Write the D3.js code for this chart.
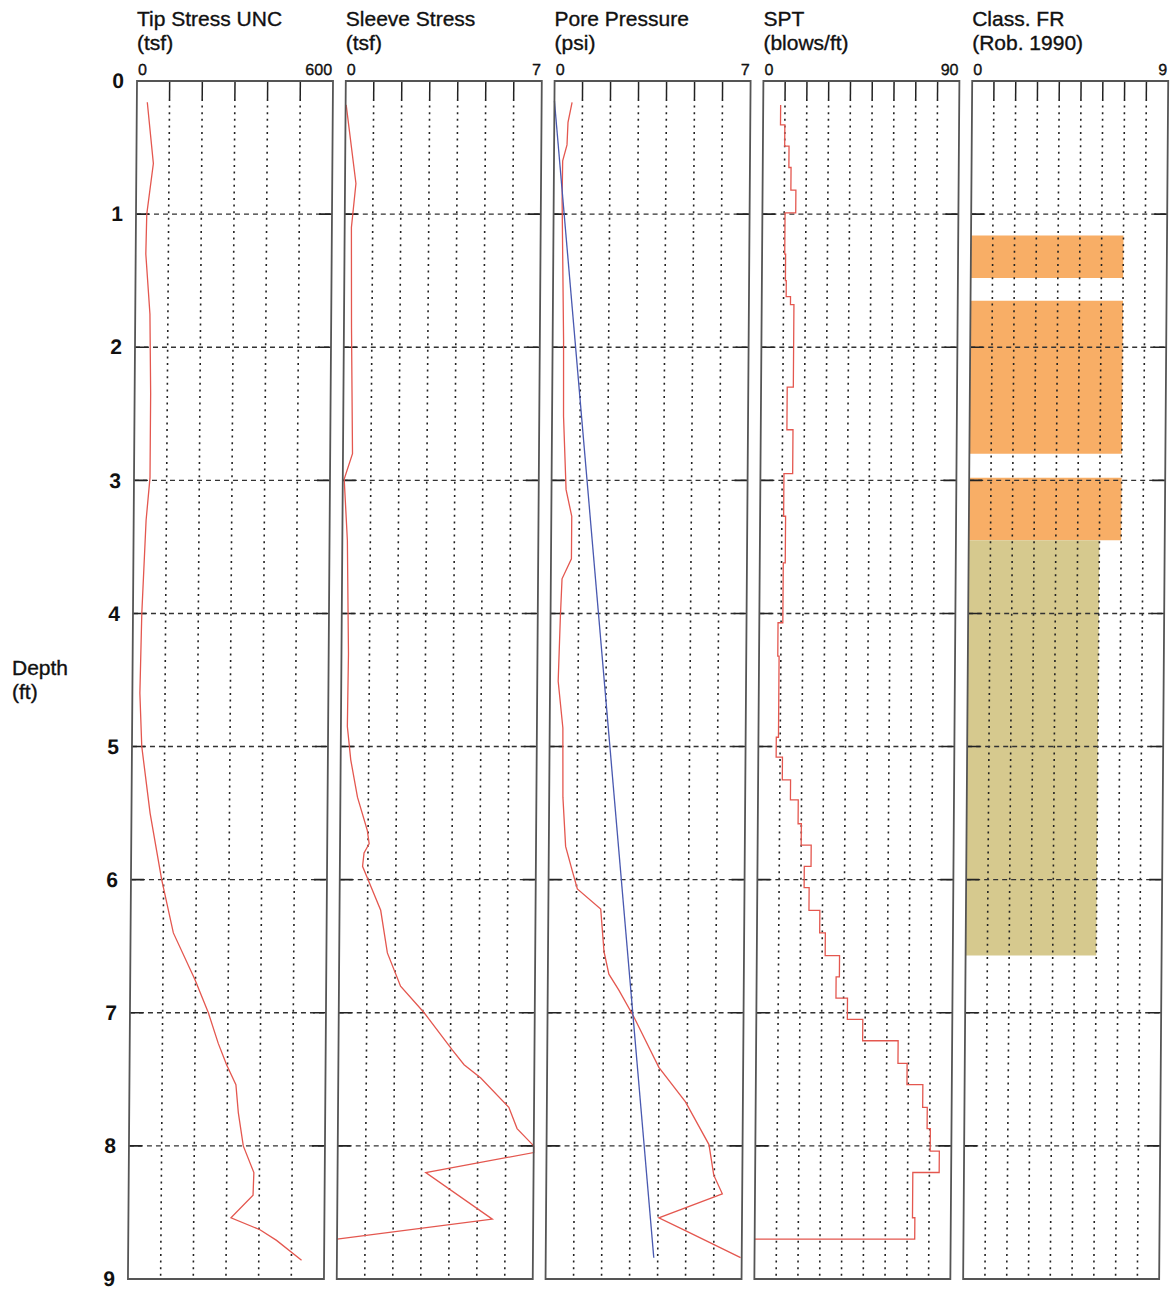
<!DOCTYPE html>
<html>
<head>
<meta charset="utf-8">
<script src="https://cdn.jsdelivr.net/npm/d3@7"></script>
<style>
  body { margin: 0; background: #fff; }
  svg text { font-family: "Liberation Sans", Arial, sans-serif; fill: #111; }
  .heavy { stroke: #111; stroke-width: 0.35px; }
</style>
</head>
<body>
<div id="chart"></div>
<script>
// panel setup
var panelTitles = ["Tip Stress UNC", "Sleeve Stress", "Pore Pressure", "SPT", "Class. FR"];
var panelUnits = ["(tsf)", "(tsf)", "(psi)", "(blows/ft)", "(Rob. 1990)"];
var panelMax = [600, 7, 7, 90, 9];
var panelDivisions = [6, 7, 7, 9, 9];
var depthTicks = [0, 1, 2, 3, 4, 5, 6, 7, 8, 9];

// tip stress (tsf) vs depth (ft)
var tipDepth = [0.16, 0.62, 1.0, 1.3, 1.75, 2.35, 2.98, 3.3, 4.0, 4.6, 5.0, 5.5, 6.0, 6.4, 6.75, 7.0, 7.23, 7.39, 7.54, 7.75, 8.0, 8.2, 8.37, 8.54, 8.63, 8.71, 8.86];
var tipValue = [32, 52, 33, 31, 45, 49, 49, 38, 27, 23, 30, 57, 94, 131, 198, 240, 271, 297, 326, 334, 350, 383, 381, 314, 403, 454, 531];

// sleeve stress (tsf)
var sleeveDepth = [0.18, 0.77, 1.1, 1.85, 2.8, 2.99, 3.45, 4.3, 4.85, 5.1, 5.38, 5.63, 5.73, 5.8, 5.9, 5.99, 6.23, 6.55, 6.8, 7.0, 7.28, 7.39, 7.49, 7.71, 7.87, 8.0, 8.05, 8.2, 8.55, 8.7];
var sleeveValue = [0.02, 0.39, 0.24, 0.27, 0.34, 0.05, 0.18, 0.25, 0.23, 0.36, 0.61, 0.97, 1.04, 0.86, 0.81, 0.99, 1.47, 1.72, 2.2, 3.05, 4.07, 4.49, 5.09, 6.1, 6.4, 7.0, 7.0, 3.15, 5.54, 0.0];

// pore pressure u2 (psi)
var poreDepth = [0.16, 0.31, 0.48, 0.6, 0.89, 1.35, 1.94, 2.52, 3.07, 3.27, 3.59, 3.74, 4.03, 4.51, 4.86, 5.38, 5.75, 5.93, 6.07, 6.22, 6.54, 6.71, 6.83, 7.03, 7.41, 7.67, 7.99, 8.22, 8.36, 8.54, 8.65, 8.84];
var poreValue = [0.63, 0.49, 0.46, 0.31, 0.30, 0.34, 0.39, 0.41, 0.52, 0.73, 0.73, 0.40, 0.35, 0.29, 0.47, 0.49, 0.60, 0.84, 1.03, 1.87, 2.0, 2.18, 2.54, 3.08, 3.99, 4.95, 5.80, 5.98, 6.29, 4.03, 5.11, 6.96];

// hydrostatic line (psi)
var hydroDepth = [0.15, 8.84];
var hydroValue = [0.0, 3.86];

// SPT (blows/ft), each value holds down to the next depth
var sptDepth = [0.18, 0.33, 0.49, 0.65, 0.82, 0.99, 1.3, 1.5, 1.62, 1.68, 2.3, 2.62, 2.95, 3.27, 3.62, 4.07, 4.32, 4.93, 5.08, 5.25, 5.4, 5.58, 5.74, 5.9, 6.06, 6.23, 6.4, 6.57, 6.73, 6.89, 7.05, 7.21, 7.38, 7.54, 7.71, 7.87, 8.04, 8.2, 8.54, 8.7];
var sptBlows = [8, 10, 12, 13, 15.3, 10.4, 10.8, 11.2, 13.2, 14.8, 12, 14.8, 10.8, 11.7, 10.8, 8.6, 9.2, 8.2, 11.1, 14.9, 18.5, 20, 24.6, 21.5, 23.8, 28.8, 31.4, 38, 36.5, 41.8, 48.9, 65.2, 69.4, 76.7, 78.8, 80.3, 84.5, 72.4, 73.5, 0];

// soil behaviour class (Robertson 1990)
var classTop = [1.16, 1.65, 2.98, 3.45];
var classBottom = [1.48, 2.8, 3.45, 6.57];
var classZone = [7, 7, 7, 6];
var zoneColours = { 6: "#d6c98e", 7: "#f8ae66" };

var width = 1175, height = 1289;
var panelLeft0 = 137, panelStep = 208.8, panelWidth = 196;

var svg = d3.select("#chart").append("svg")
    .attr("width", width)
    .attr("height", height);

var y = d3.scaleLinear().domain([0, 9]).range([81, 1279]);

// the scan leans slightly, so the whole frame is skewed a bit
var g = svg.append("g")
    .attr("transform", "translate(0,81) skewX(-0.433) translate(0,-81)");

function xScaleFor(i) {
    var left = panelLeft0 + i * panelStep;
    return d3.scaleLinear().domain([0, panelMax[i]]).range([left, left + panelWidth]);
}

var redLine = "#e4574f";

panelTitles.forEach(function (title, i) {
    var x = xScaleFor(i);
    var left = x.range()[0], right = x.range()[1];
    var p = g.append("g");

    svg.append("text").attr("class", "heavy").attr("x", left).attr("y", 26).attr("font-size", 21).text(title);
    svg.append("text").attr("class", "heavy").attr("x", left).attr("y", 50).attr("font-size", 21).text(panelUnits[i]);
    p.append("text").attr("class", "heavy").attr("x", left + 1).attr("y", 75).attr("font-size", 16).text("0");
    p.append("text").attr("class", "heavy").attr("x", right - 1).attr("y", 75).attr("font-size", 16)
        .attr("text-anchor", "end").text(panelMax[i]);

    if (i == 4) {
        p.selectAll("rect.zone")
            .data(classTop)
            .enter().append("rect")
            .attr("class", "zone")
            .attr("x", left)
            .attr("y", function (d) { return y(d) })
            .attr("width", function (d, j) { return x(classZone[j]) - left })
            .attr("height", function (d, j) { return y(classBottom[j]) - y(d) })
            .attr("fill", function (d, j) { return zoneColours[classZone[j]] });
    }

    // vertical grid
    var step = panelMax[i] / panelDivisions[i];
    var vTicks = d3.range(1, panelDivisions[i]).map(function (k) { return k * step });
    p.selectAll("line.vtick").data(vTicks).enter().append("line")
        .attr("x1", function (d) { return x(d) }).attr("x2", function (d) { return x(d) })
        .attr("y1", y(0)).attr("y2", y(0) + 18)
        .attr("stroke", "#222").attr("stroke-width", 1.5);
    p.selectAll("line.vgrid").data(vTicks).enter().append("line")
        .attr("x1", function (d) { return x(d) }).attr("x2", function (d) { return x(d) })
        .attr("y1", y(0) + 18).attr("y2", y(9))
        .attr("stroke", "#222").attr("stroke-width", 1.6)
        .attr("stroke-dasharray", "2,4.6");

    // horizontal grid
    var hTicks = d3.range(1, 9);
    p.selectAll("line.hgrid").data(hTicks).enter().append("line")
        .attr("x1", left).attr("x2", right)
        .attr("y1", function (d) { return y(d) }).attr("y2", function (d) { return y(d) })
        .attr("stroke", "#333").attr("stroke-width", 1.4)
        .attr("stroke-dasharray", "5,4");
    p.selectAll("line.hl").data(hTicks).enter().append("line")
        .attr("x1", left).attr("x2", left + 13)
        .attr("y1", function (d) { return y(d) }).attr("y2", function (d) { return y(d) })
        .attr("stroke", "#222").attr("stroke-width", 1.6);
    p.selectAll("line.hr").data(hTicks).enter().append("line")
        .attr("x1", right - 13).attr("x2", right)
        .attr("y1", function (d) { return y(d) }).attr("y2", function (d) { return y(d) })
        .attr("stroke", "#222").attr("stroke-width", 1.6);

    var line = d3.line()
        .x(function (d) { return x(d[1]) })
        .y(function (d) { return y(d[0]) });

    if (i == 0) {
        p.append("path").datum(d3.zip(tipDepth, tipValue))
            .attr("d", line).attr("fill", "none").attr("stroke", redLine).attr("stroke-width", 1.3);
    }
    if (i == 1) {
        p.append("path").datum(d3.zip(sleeveDepth, sleeveValue))
            .attr("d", line).attr("fill", "none").attr("stroke", redLine).attr("stroke-width", 1.3);
    }
    if (i == 2) {
        p.append("path").datum(d3.zip(poreDepth, poreValue))
            .attr("d", line).attr("fill", "none").attr("stroke", redLine).attr("stroke-width", 1.3);
        p.append("path").datum(d3.zip(hydroDepth, hydroValue))
            .attr("d", line).attr("fill", "none").attr("stroke", "#4858b0").attr("stroke-width", 1.3);
    }
    if (i == 3) {
        p.append("path").datum(d3.zip(sptDepth, sptBlows))
            .attr("d", line.curve(d3.curveStepBefore))
            .attr("fill", "none").attr("stroke", redLine).attr("stroke-width", 1.3);
    }

    p.append("rect")
        .attr("x", left).attr("y", y(0))
        .attr("width", panelWidth).attr("height", y(9) - y(0))
        .attr("fill", "none").attr("stroke", "#555").attr("stroke-width", 1.8);
});

// depth axis
var depthAxis = d3.axisLeft(y).tickValues(depthTicks).tickSize(0).tickPadding(13)
    .tickFormat(d3.format("d"));
var ax = g.append("g").attr("transform", "translate(" + panelLeft0 + ",0)").call(depthAxis);
ax.select(".domain").remove();
ax.selectAll("text")
    .attr("font-size", 21).attr("font-weight", "bold")
    .style("font-family", "'Liberation Sans', Arial, sans-serif").attr("fill", "#111");

svg.append("text").attr("class", "heavy").attr("x", 12).attr("y", 675).attr("font-size", 21).text("Depth");
svg.append("text").attr("class", "heavy").attr("x", 12).attr("y", 699).attr("font-size", 21).text("(ft)");
</script>
</body>
</html>
